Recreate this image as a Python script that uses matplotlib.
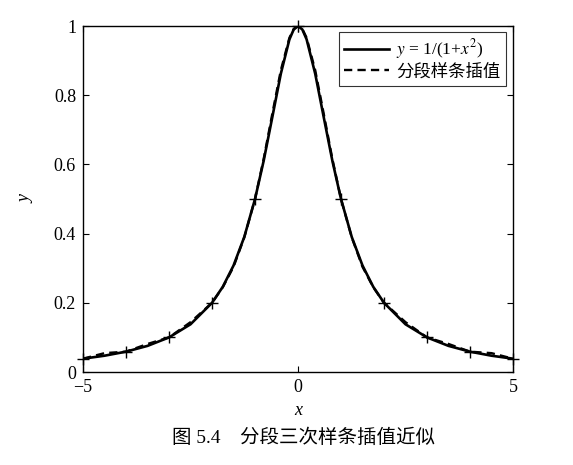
import matplotlib
matplotlib.use("Agg")
import matplotlib.pyplot as plt

# 字体: 西文用 Times 风格, 中文回退到 Noto CJK
plt.rcParams['font.family'] = ['Liberation Serif', 'Noto Sans CJK SC']
plt.rcParams['mathtext.fontset'] = 'stix'
plt.rcParams['axes.unicode_minus'] = True

# 插值节点
x_nodes = [-5, -4, -3, -2, -1, 0, 1, 2, 3, 4, 5]
y_nodes = [0.0385, 0.0588, 0.1, 0.2, 0.5, 1.0, 0.5, 0.2, 0.1, 0.0588, 0.0385]

# 曲线取样点
x_curve = [-5, -4.5, -4, -3.5, -3, -2.5, -2, -1.75, -1.5, -1.25, -1,
           -0.8, -0.6, -0.4, -0.2, -0.1, 0, 0.1, 0.2, 0.4, 0.6, 0.8,
           1, 1.25, 1.5, 1.75, 2, 2.5, 3, 3.5, 4, 4.5, 5]
# y = 1/(1+x^2)
y_true = [0.0385, 0.0471, 0.0588, 0.0755, 0.1, 0.1379, 0.2, 0.2462, 0.3077, 0.3902, 0.5,
          0.6098, 0.7353, 0.8621, 0.9615, 0.9901, 1.0, 0.9901, 0.9615, 0.8621, 0.7353, 0.6098,
          0.5, 0.3902, 0.3077, 0.2462, 0.2, 0.1379, 0.1, 0.0755, 0.0588, 0.0471, 0.0385]
# 分段样条插值
y_spline = [0.0385, 0.0545, 0.0588, 0.0810, 0.1, 0.1440, 0.2, 0.2450, 0.3040, 0.3890, 0.5,
            0.6150, 0.7450, 0.8720, 0.9660, 0.9915, 1.0, 0.9915, 0.9660, 0.8720, 0.7450, 0.6150,
            0.5, 0.3890, 0.3040, 0.2450, 0.2, 0.1440, 0.1, 0.0810, 0.0588, 0.0545, 0.0385]

y_ticks = [0, 0.2, 0.4, 0.6, 0.8, 1]
y_ticklabels = ['0', '0.2', '0.4', '0.6', '0.8', '1']
x_ticks = [-5, 0, 5]

fig = plt.figure(figsize=(5.73, 4.65), dpi=100)
ax = fig.add_axes([0.1449, 0.2, 0.7504, 0.744])

ax.plot(x_nodes, y_nodes, '+', color='black', markersize=9, markeredgewidth=1.0,
        clip_on=False, zorder=4)
ax.plot(x_curve, y_true, '-', color='black', linewidth=1.9, label='$y$ = 1/(1+$x^2$)')
ax.plot(x_curve, y_spline, '--', color='black', linewidth=1.7, dashes=(3.5, 2.2),
        label='分段样条插值')

ax.set_xlim(-5, 5)
ax.set_ylim(0, 1)
ax.set_xticks(x_ticks)
ax.set_yticks(y_ticks)
ax.set_yticklabels(y_ticklabels)
ax.tick_params(direction='in', top=True, right=True, length=4, width=0.8,
               labelsize=13, pad=5)
for s in ax.spines.values():
    s.set_linewidth(1.0)

ax.set_xlabel('x', fontstyle='italic', fontsize=13, labelpad=4)
ax.set_ylabel('y', fontstyle='italic', fontsize=13, labelpad=14)

leg = ax.legend(loc='upper right', bbox_to_anchor=(0.983, 0.982), borderaxespad=0,
                fontsize=12.5, frameon=True, fancybox=False, handlelength=2.6,
                handletextpad=0.4, borderpad=0.3, labelspacing=0.15)
leg.get_frame().set_edgecolor('black')
leg.get_frame().set_linewidth(0.8)

fig.text(0.53, 1 - 438 / 465, '图 5.4\u3000分段三次样条插值近似', ha='center', va='center',
         fontsize=14)

fig.savefig('out.png', dpi=100)
